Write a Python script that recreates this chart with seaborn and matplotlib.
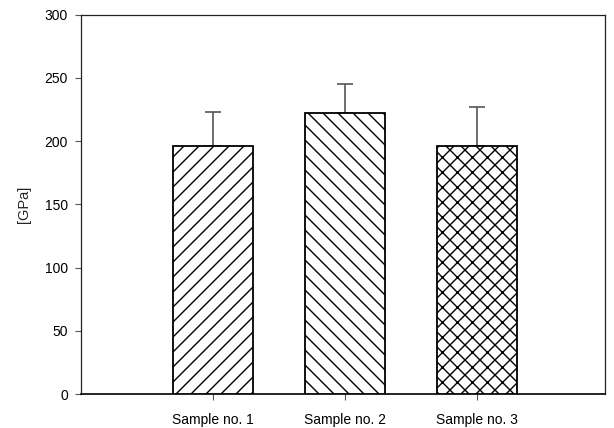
import matplotlib
matplotlib.use("Agg")
import matplotlib.pyplot as plt
import seaborn as sns
import pandas as pd

categories = ["Sample no. 1", "Sample no. 2", "Sample no. 3"]
values = [196, 222, 196]
errors = [27, 23, 31]
hatches = ["//", "\\\\", "xx"]
yticks = [0, 50, 100, 150, 200, 250, 300]

DPI = 90
k = 100 / DPI  # keep pixel sizes as if at 100 dpi

sns.set_style("ticks")
plt.rcParams["font.family"] = ["Liberation Sans", "DejaVu Sans"]
plt.rcParams["hatch.linewidth"] = 1.0 * k
plt.rcParams["hatch.color"] = "black"

df = pd.DataFrame({"cat": categories, "val": values})

fig = plt.figure(figsize=(614 / DPI, 428 / DPI), dpi=DPI)
ax = fig.add_axes([81 / 614, 1 - 394 / 428, (605 - 81) / 614, (394 - 14.7) / 428])

sns.barplot(data=df, x="cat", y="val", color="white", edgecolor="black",
            linewidth=1.3 * k, width=0.6, ax=ax, saturation=1, zorder=3)
for patch, h in zip(ax.patches, hatches):
    patch.set_hatch(h)
    patch.set_facecolor("white")

ax.errorbar(range(len(values)), values, yerr=[[0] * len(errors), errors],
            fmt="none", ecolor="#555555", elinewidth=1.2 * k, capsize=5.5 * k,
            capthick=1.2 * k, zorder=2)

ax.set_xlim(-1, 2.97)
ax.set_ylim(0, 300)
ax.set_yticks(yticks)
ax.set_xlabel("")
ax.set_ylabel("[GPa]", fontsize=10.5 * k, labelpad=10 * k)
for s in ax.spines.values():
    s.set_visible(True)
    s.set_linewidth(0.9 * k)
    s.set_color("#222222")
ax.spines["bottom"].set_linewidth(1.2 * k)
ax.spines["bottom"].set_color("black")
ax.tick_params(axis="both", direction="out", length=4.5 * k, width=0.8 * k,
               colors="#555555", labelcolor="black", labelsize=10 * k, pad=5 * k)
ax.tick_params(axis="x", pad=9 * k)

fig.savefig("out.png", dpi=DPI)
